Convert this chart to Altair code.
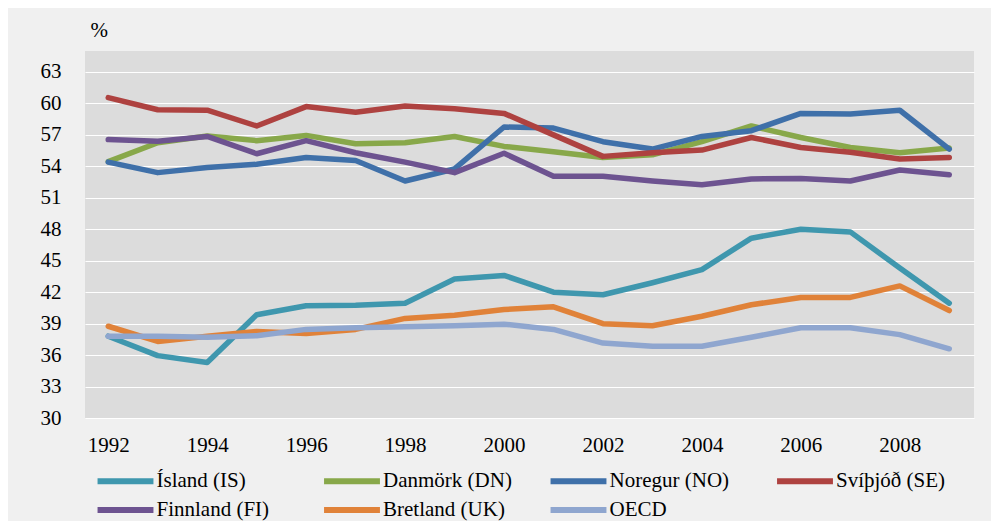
import altair as alt
import pandas as pd

years = list(range(1992, 2010))
series_names = ["Ísland (IS)", "Danmörk (DN)", "Noregur (NO)", "Svíþjóð (SE)",
                "Finnland (FI)", "Bretland (UK)", "OECD"]
series_colors = ["#3f97ae", "#88a84a", "#3f70a9", "#ae4240", "#6d5390", "#e08239", "#8fa6cf"]

island = [37.8, 35.95, 35.3, 39.85, 40.7, 40.75, 40.95, 43.25, 43.6, 42.0, 41.75, 42.9, 44.15, 47.15, 48.0, 47.75, 44.3, 40.95]
danmork = [54.45, 56.25, 56.9, 56.45, 56.95, 56.15, 56.25, 56.85, 55.9, 55.4, 54.85, 55.1, 56.35, 57.85, 56.75, 55.8, 55.3, 55.75]
noregur = [54.4, 53.4, 53.9, 54.2, 54.85, 54.55, 52.6, 53.75, 57.75, 57.65, 56.35, 55.65, 56.85, 57.4, 59.05, 59.0, 59.35, 55.65]
svithjod = [60.55, 59.4, 59.35, 57.85, 59.7, 59.15, 59.75, 59.5, 59.05, 57.0, 54.95, 55.3, 55.55, 56.75, 55.8, 55.35, 54.7, 54.85]
finnland = [56.55, 56.4, 56.85, 55.2, 56.45, 55.3, 54.4, 53.4, 55.25, 53.05, 53.05, 52.6, 52.25, 52.8, 52.85, 52.6, 53.65, 53.2]
bretland = [38.75, 37.3, 37.8, 38.25, 38.05, 38.45, 39.5, 39.8, 40.35, 40.6, 39.0, 38.8, 39.7, 40.8, 41.5, 41.5, 42.6, 40.25]
oecd = [37.8, 37.8, 37.7, 37.85, 38.45, 38.6, 38.7, 38.8, 38.95, 38.45, 37.15, 36.85, 36.85, 37.7, 38.6, 38.6, 37.95, 36.6]

y_ticks = list(range(30, 64, 3))
x_ticks = list(range(1992, 2009, 2))

all_values = [island, danmork, noregur, svithjod, finnland, bretland, oecd]
rows = []
for i, (name, vals) in enumerate(zip(series_names, all_values)):
    for yr, v in zip(years, vals):
        rows.append({"year": yr, "value": v, "series": name, "ord": i})
df = pd.DataFrame(rows)

FONT = "Liberation Serif"

chart = alt.Chart(df).mark_line(strokeWidth=5.5, strokeCap="round", strokeJoin="round").encode(
    x=alt.X("year:Q",
            scale=alt.Scale(domain=[1991.53, 2009.5], nice=False, zero=False),
            axis=alt.Axis(values=x_ticks, format="d", grid=False, domain=False, ticks=False,
                          labelPadding=16, labelFont=FONT, labelFontSize=21,
                          labelColor="black", title="")),
    y=alt.Y("value:Q",
            scale=alt.Scale(domain=[30, 65], nice=False, zero=False),
            axis=alt.Axis(values=y_ticks, grid=True, gridColor="white", gridWidth=1.2,
                          domain=False, ticks=False, labelPadding=24, labelFont=FONT,
                          labelFontSize=21, labelColor="black",
                          title="%", titleAngle=0, titleFont=FONT, titleFontSize=21,
                          titleFontWeight="normal", titleColor="black",
                          titleX=5, titleY=-15, titleAlign="left", titleBaseline="alphabetic")),
    color=alt.Color("series:N",
                    scale=alt.Scale(domain=series_names, range=series_colors),
                    legend=alt.Legend(orient="none", legendX=30, legendY=419.5,
                                      direction="horizontal", columns=4, title=None,
                                      symbolType="M-4.3,0H4.3", symbolSize=169,
                                      symbolStrokeWidth=6, labelFont=FONT,
                                      labelFontSize=21, labelColor="black",
                                      columnPadding=25.5, rowPadding=4, gridAlign="all",
                                      labelOffset=20.5, labelLimit=300)),
    order=alt.Order("ord:Q"),
).properties(
    width=889, height=367,
    autosize=alt.AutoSizeParams(type="none"),
    padding={"left": 77, "top": 43, "right": 17, "bottom": 103},
    background="#f0f0f0",
).configure_view(fill="#dcdcdc", stroke="#dcdcdc", strokeWidth=0)

chart.save("out.html", embed_options={"renderer": "svg", "actions": False})
